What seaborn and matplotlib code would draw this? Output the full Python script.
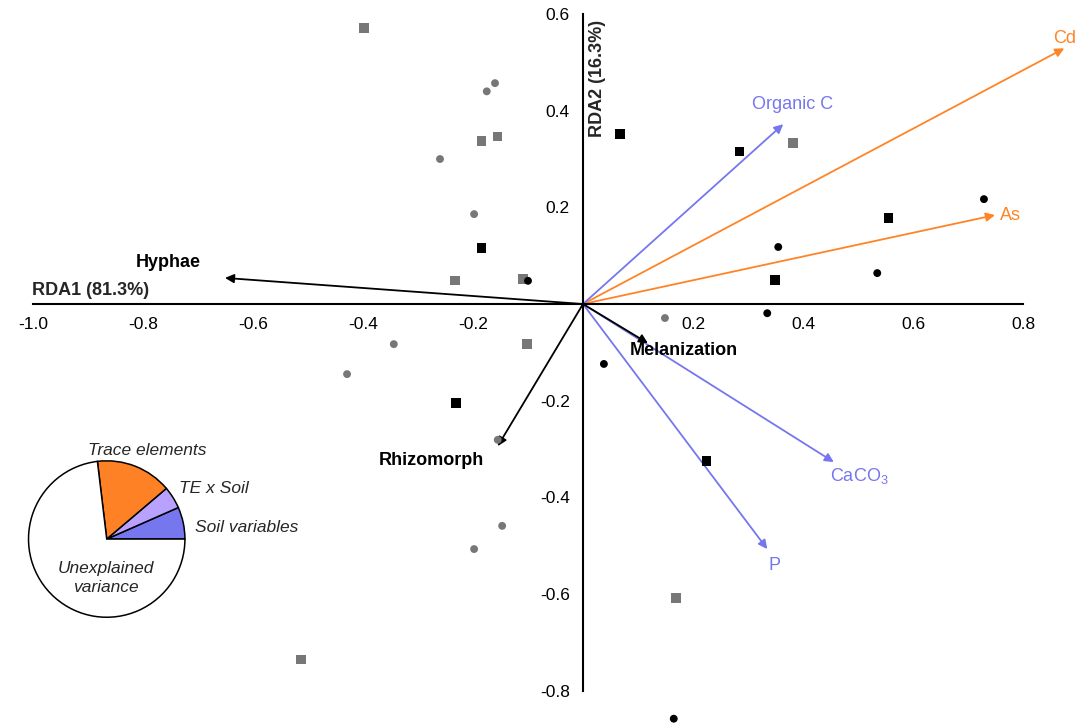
import numpy as np
import pandas as pd
import matplotlib
matplotlib.use('Agg')
import matplotlib.pyplot as plt
import seaborn as sns

# site scores (RDA1, RDA2) per group
grey_sq_x = [-0.398, -0.184, -0.156, 0.382, -0.233, -0.109, -0.102, 0.169, -0.513]
grey_sq_y = [0.571, 0.337, 0.347, 0.333, 0.048, 0.052, -0.083, -0.608, -0.736]
grey_ci_x = [-0.160, -0.175, -0.260, -0.198, -0.344, -0.429, -0.155, -0.147, -0.198, 0.149]
grey_ci_y = [0.457, 0.440, 0.300, 0.186, -0.083, -0.145, -0.281, -0.459, -0.507, -0.029]
black_sq_x = [0.067, 0.285, 0.556, -0.184, 0.349, -0.231, 0.225]
black_sq_y = [0.352, 0.316, 0.178, 0.116, 0.050, -0.205, -0.325]
black_ci_x = [0.729, 0.355, 0.535, -0.100, 0.335, 0.038, 0.165]
black_ci_y = [0.217, 0.118, 0.064, 0.048, -0.019, -0.124, -0.858]

# explanatory variables (arrows)
env_names = ['Cd', 'As', 'Organic C', 'CaCO$_3$', 'P']
env_x = [0.875, 0.749, 0.364, 0.456, 0.335]
env_y = [0.529, 0.184, 0.372, -0.327, -0.507]
env_kind = ['te', 'te', 'soil', 'soil', 'soil']

# response traits (black arrows)
trait_names = ['Hyphae', 'Rhizomorph', 'Melanization']
trait_x = [-0.651, -0.155, 0.118]
trait_y = [0.054, -0.294, -0.081]

# variance partitioning
pie_labels = ['Soil variables', 'TE x Soil', 'Trace elements', 'Unexplained\nvariance']
pie_values = [6.6, 4.6, 15.7, 73.1]

orange = '#FF8426'
blue = '#7676EE'

sns.set_style('white')
plt.rcParams['font.family'] = ['Liberation Sans', 'DejaVu Sans']
plt.rcParams['axes.unicode_minus'] = False
plt.rcParams['mathtext.fontset'] = 'custom'
plt.rcParams['mathtext.rm'] = 'Liberation Sans'
plt.rcParams['mathtext.default'] = 'regular'

df = pd.concat([
    pd.DataFrame({'x': grey_sq_x, 'y': grey_sq_y, 'grp': 'grey_sq'}),
    pd.DataFrame({'x': grey_ci_x, 'y': grey_ci_y, 'grp': 'grey_ci'}),
    pd.DataFrame({'x': black_sq_x, 'y': black_sq_y, 'grp': 'black_sq'}),
    pd.DataFrame({'x': black_ci_x, 'y': black_ci_y, 'grp': 'black_ci'}),
], ignore_index=True)

fig = plt.figure(figsize=(10.78, 7.25), dpi=100)
ax = fig.add_axes([0, 0, 1, 1])

sns.scatterplot(data=df, x='x', y='y', hue='grp', style='grp', size='grp',
                palette={'grey_sq': '#777777', 'grey_ci': '#777777', 'black_sq': 'black', 'black_ci': 'black'},
                markers={'grey_sq': 's', 'grey_ci': 'o', 'black_sq': 's', 'black_ci': 'o'},
                sizes={'grey_sq': 45, 'grey_ci': 32, 'black_sq': 45, 'black_ci': 32},
                linewidth=0, legend=False, ax=ax, zorder=3)

ax.set_xlim(-1.06, 0.90)
ax.set_ylim(-0.871, 0.629)

# spines through origin
for s in ['top', 'right']:
    ax.spines[s].set_visible(False)
ax.spines['left'].set_position(('data', 0))
ax.spines['bottom'].set_position(('data', 0))
ax.spines['left'].set_bounds(-0.8, 0.6)
ax.spines['bottom'].set_bounds(-1.0, 0.8)
for s in ['left', 'bottom']:
    ax.spines[s].set_linewidth(1.5)
    ax.spines[s].set_color('black')

xt = [-1.0, -0.8, -0.6, -0.4, -0.2, 0.2, 0.4, 0.6, 0.8]
yt = [-0.8, -0.6, -0.4, -0.2, 0.2, 0.4, 0.6]
ax.set_xticks(xt)
ax.set_xticklabels([f'{v:.1f}' for v in xt])
ax.set_yticks(yt)
ax.set_yticklabels([f'{v:.1f}' for v in yt])
ax.tick_params(axis='both', direction='out', length=6, width=1.2, labelsize=12.5, colors='black')
ax.set_xlabel('')
ax.set_ylabel('')

arrow_kw = dict(arrowstyle='-|>', mutation_scale=13, shrinkA=0, shrinkB=0)

env_off = {'Cd': (0, 10, 'center'), 'As': (5, 0, 'left'), 'Organic C': (9, 20, 'center'),
           'CaCO$_3$': (26, -14, 'center'), 'P': (7, -16, 'center')}
for n, x, y, k in zip(env_names, env_x, env_y, env_kind):
    c = orange if k == 'te' else blue
    ax.annotate('', xy=(x, y), xytext=(0, 0),
                arrowprops=dict(color=c, lw=1.3, **arrow_kw), zorder=2)
    dx, dy, ha = env_off[n]
    ax.annotate(n, xy=(x, y), xytext=(dx, dy), textcoords='offset pixels',
                ha=ha, va='center', color=c, fontsize=13)

trait_off = {'Hyphae': (-57, 15), 'Rhizomorph': (-66, -14), 'Melanization': (36, -7)}
for n, x, y in zip(trait_names, trait_x, trait_y):
    ax.annotate('', xy=(x, y), xytext=(0, 0),
                arrowprops=dict(color='black', lw=1.3, **arrow_kw), zorder=2)
    dx, dy = trait_off[n]
    ax.annotate(n, xy=(x, y), xytext=(dx, dy), textcoords='offset pixels',
                ha='center', va='center', color='black', fontsize=13, fontweight='bold')

ax.text(-0.896, 0.027, 'RDA1 (81.3%)', ha='center', va='center', fontsize=13, fontweight='bold')
ax.text(0.027, 0.467, 'RDA2 (16.3%)', ha='center', va='center', fontsize=13,
        fontweight='bold', rotation=90)

# inset pie of variance partitioning
ax2 = fig.add_axes([0.025, 0.146, 0.148, 0.221])
ax2.pie(pie_values, colors=[blue, '#B9A2FF', '#FF8125', 'white'], startangle=0,
        counterclock=True, radius=1, wedgeprops=dict(edgecolor='black', linewidth=1.1))
ax2.set_xlim(-1.02, 1.02)
ax2.set_ylim(-1.02, 1.02)
ax2.set_aspect('equal')

pie_pos = [(0.229, 0.273), (0.198, 0.326), (0.137, 0.379), (0.098, 0.203)]
for lab, (px, py) in zip(pie_labels, pie_pos):
    fig.text(px, py, lab, ha='center', va='center', fontsize=12.5, style='italic',
             linespacing=1.35)

fig.savefig('out.png', dpi=100)
